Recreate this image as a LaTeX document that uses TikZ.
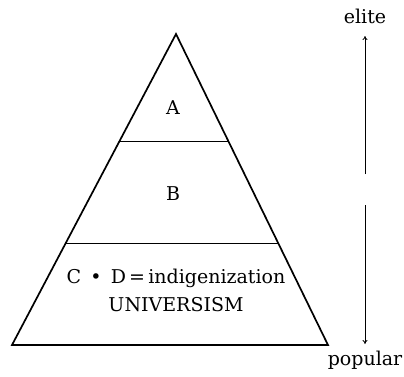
\documentclass[tikz,border=0pt]{standalone}
\usepackage{fontspec}
\setmainfont{DejaVu Serif}
\usepackage{tikz}
\usetikzlibrary{arrows.meta,calc}

\begin{document}
\begin{tikzpicture}[x=1pt, y=-1pt,
  side/.style={line width=1.7pt, line join=miter},
  layer/.style={line width=0.9pt},
  lbl/.style={font=\fontsize{19}{28}\selectfont, align=center, inner sep=0pt},
  scl/.style={font=\fontsize{19}{23}\selectfont, inner sep=0pt},
  dir/.style={-{To[length=4pt,width=5pt]}, line width=0.8pt}
]
  \useasboundingbox (0,0) rectangle (404,376);

  \coordinate (top)   at (176,34);
  \coordinate (left)  at (12,345);
  \coordinate (right) at (328,345);

  \draw[side] (top) -- (left) -- (right) -- cycle;

  \coordinate (abl) at ($(top)!0.345!(left)$);
  \coordinate (abr) at ($(top)!0.345!(right)$);
  \coordinate (bcl) at ($(top)!0.673!(left)$);
  \coordinate (bcr) at ($(top)!0.673!(right)$);
  \draw[layer] (abl) -- (abr);
  \draw[layer, line width=1.4pt] (bcl) -- (bcr);

  \node[lbl] (a) at (173,108) {A};
  \node[lbl] (b) at (173,194) {B};
  \node[lbl] (cd) at (176,290) {C\ \,\textbullet\ \,D\,=\,indigenization\\UNIVERSISM};

  \node[scl] (elite)   at (365,16)  {elite};
  \node[scl] (popular) at (365,360) {popular};
  \coordinate (upa) at (365,174);
  \coordinate (upb) at (365,36);
  \coordinate (dna) at (365,205);
  \coordinate (dnb) at (365,344);
  \draw[dir] (upa) -- (upb);
  \draw[dir] (dna) -- (dnb);
\end{tikzpicture}
\end{document}
